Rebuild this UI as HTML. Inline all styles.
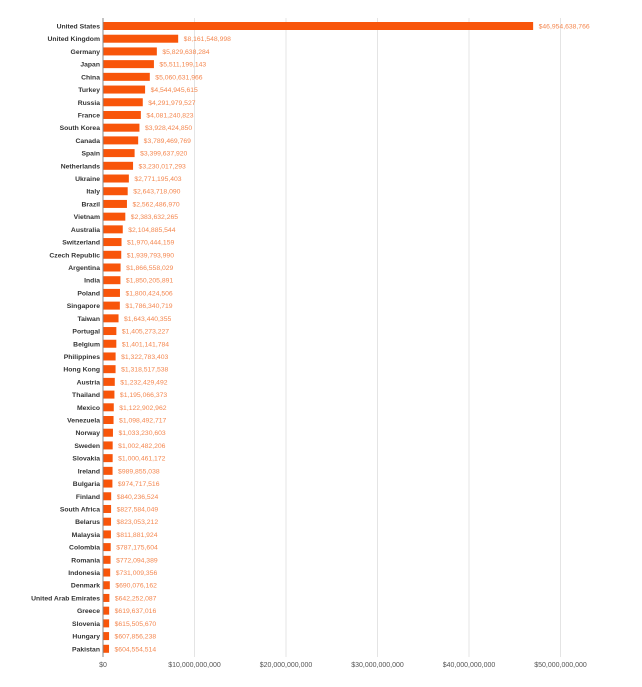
<!DOCTYPE html>
<html><head><meta charset="utf-8"><style>
html,body{margin:0;padding:0;background:#fff;}
svg{display:block;font-family:"Liberation Sans",sans-serif;}
</style></head><body>
<svg id="chart" width="642" height="687" viewBox="0 0 642 687"></svg>
<script>
const countries=["United States","United Kingdom","Germany","Japan","China","Turkey","Russia","France","South Korea","Canada","Spain","Netherlands","Ukraine","Italy","Brazil","Vietnam","Australia","Switzerland","Czech Republic","Argentina","India","Poland","Singapore","Taiwan","Portugal","Belgium","Philippines","Hong Kong","Austria","Thailand","Mexico","Venezuela","Norway","Sweden","Slovakia","Ireland","Bulgaria","Finland","South Africa","Belarus","Malaysia","Colombia","Romania","Indonesia","Denmark","United Arab Emirates","Greece","Slovenia","Hungary","Pakistan"];
const values=[46954638766,8161548998,5829638284,5511199143,5060631966,4544945615,4291979527,4081240823,3928424850,3789469769,3399637920,3230017293,2771195403,2643718090,2562486970,2383632265,2104885544,1970444159,1939793990,1866558029,1850205891,1800424506,1786340719,1643440355,1405273227,1401141784,1322783403,1318517538,1232429492,1195066373,1122902962,1098492717,1033230603,1002482206,1000461172,989855038,974717516,840236524,827584049,823053212,811881924,787175604,772094389,731009356,690076162,642252087,619637016,615505670,607856238,604554514];
const ticks=[0,10e9,20e9,30e9,40e9,50e9];
const tickLabels=["$0","$10,000,000,000","$20,000,000,000","$30,000,000,000","$40,000,000,000","$50,000,000,000"];
const svgEl=document.getElementById('chart');
const NS='http://www.w3.org/2000/svg';
const x0=103, pxPer=91.5/10e9, yFirst=26, step=12.71, plotTop=18, plotBottom=657;
const xs=v=>x0+v*pxPer;
const ys=i=>yFirst+i*step;
function mk(t,a){const e=document.createElementNS(NS,t);for(const k in a)e.setAttribute(k,a[k]);svgEl.appendChild(e);return e;}
function fmt(n){return '$'+String(n).replace(/\B(?=(\d{3})+(?!\d))/g,',');}
ticks.forEach((t,i)=>{
  if(i>0){const g=mk('line',{x1:xs(t),x2:xs(t),y1:plotTop,y2:plotBottom,stroke:'#e4e4e4','stroke-width':1});
  
  }
  const l=mk('text',{x:xs(t),y:667,'font-size':7,fill:'#555','text-anchor':'middle'});
  l.textContent=tickLabels[i];
  
  
});
const ax=mk('line',{x1:x0,x2:x0,y1:plotTop,y2:plotBottom,stroke:'#888','stroke-width':1});


countries.forEach((c,i)=>{
  const y=ys(i);
  const b=mk('rect',{x:x0+0.5,y:y-4,width:xs(values[i])-x0,height:8,fill:'#f8550a'});
  
  
  const l=mk('text',{x:x0-3,y:y+2.5,'font-size':6.8,fill:'#333','text-anchor':'end','font-weight':'bold'});
  l.textContent=c;
  
  
  const v=mk('text',{x:xs(values[i])+6,y:y+2.5,'font-size':6.8,fill:'#f4874f'});
  v.textContent=fmt(values[i]);
  
  
});
</script>
</body></html>
